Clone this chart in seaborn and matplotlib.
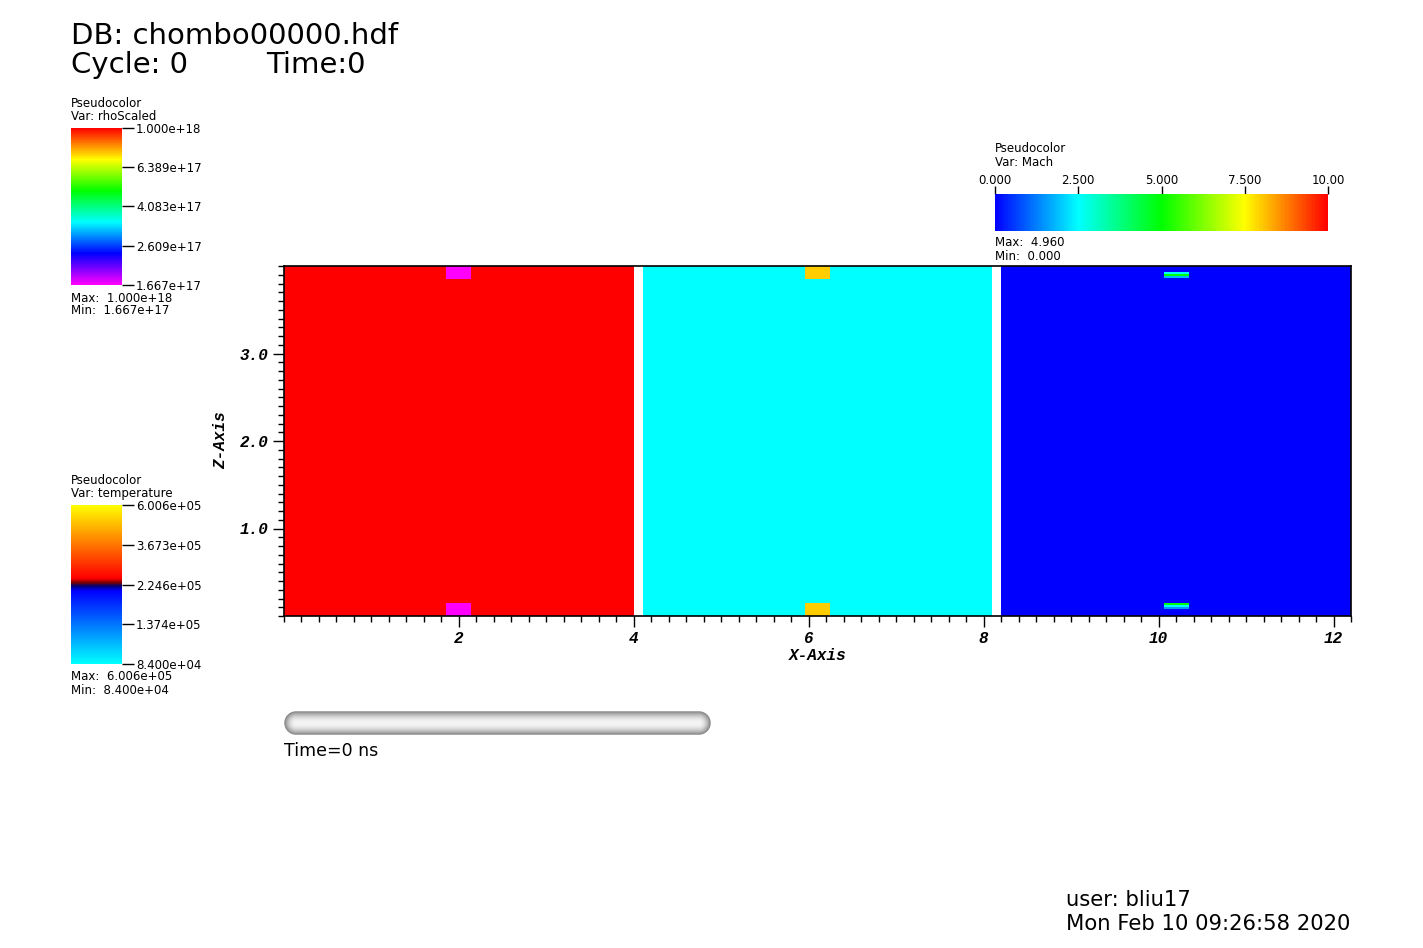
import numpy as np
import matplotlib
matplotlib.use("Agg")
import matplotlib.pyplot as plt
import seaborn as sns
from matplotlib.colors import LogNorm, Normalize, LinearSegmentedColormap
from matplotlib.cm import ScalarMappable
from matplotlib.ticker import MultipleLocator

# ---- data -------------------------------------------------------------
# the three patches sit side by side along X, each 4.0 wide
block_offsets = [0.0, 4.1, 8.2]

# rhoScaled patch (left)
rho_x = [0.0, 1.857, 2.143, 4.0]
rho_z = [0.0, 0.143, 3.857, 4.0]
rho_vals = [[1.0e18, 1.667e17, 1.0e18],
            [1.0e18, 1.0e18, 1.0e18],
            [1.0e18, 1.667e17, 1.0e18]]

# temperature patch (middle)
temp_x = [0.0, 1.857, 2.143, 4.0]
temp_z = [0.0, 0.143, 3.857, 4.0]
temp_vals = [[8.4e4, 5.0e5, 8.4e4],
             [8.4e4, 8.4e4, 8.4e4],
             [8.4e4, 5.0e5, 8.4e4]]

# Mach patch (right)
mach_x = [0.0, 1.857, 2.143, 4.0]
mach_z = [0.0, 0.080, 0.103, 0.126, 0.149, 3.863, 3.886, 3.909, 3.931, 4.0]
mach_vals = [[0.0, 0.0, 0.0],
             [0.0, 1.5, 0.0],
             [0.0, 2.6, 0.0],
             [0.0, 4.96, 0.0],
             [0.0, 0.0, 0.0],
             [0.0, 1.8, 0.0],
             [0.0, 4.96, 0.0],
             [0.0, 2.6, 0.0],
             [0.0, 0.0, 0.0]]

# legend ranges / ticks
rho_range = (1.667e17, 1.0e18)
rho_ticks = [1.667e17, 2.609e17, 4.083e17, 6.389e17, 1.0e18]
temp_range = (8.4e4, 6.006e5)
temp_ticks = [8.4e4, 1.374e5, 2.246e5, 3.673e5, 6.006e5]
mach_range = (0.0, 10.0)
mach_ticks = [0.0, 2.5, 5.0, 7.5, 10.0]
mach_ticklabels = ["0.000", "2.500", "5.000", "7.500", "10.00"]
mach_max, mach_min = 4.960, 0.000

x_ticks = [2, 4, 6, 8, 10, 12]
z_ticks = [1.0, 2.0, 3.0]

# ---- style ------------------------------------------------------------
sns.set_theme(style="white")
plt.rcParams['font.family'] = ['DejaVu Sans']
plt.rcParams['text.color'] = 'black'
plt.rcParams['axes.labelcolor'] = 'black'
plt.rcParams['xtick.color'] = 'black'
plt.rcParams['ytick.color'] = 'black'
mono = dict(family='Liberation Mono', weight='bold', style='italic', size=11.5, color='black')

rho_cmap = sns.blend_palette(['#ff00ff', '#0000ff', '#00ffff', '#00ff00', '#ffff00', '#ff0000'],
                             as_cmap=True)
mach_cmap = sns.blend_palette(['#0000ff', '#00ffff', '#00ff00', '#ffff00', '#ff0000'], as_cmap=True)
temp_cmap = LinearSegmentedColormap.from_list('hot_and_cold', [
    (0.0, (0, 1, 1)), (0.46, (0, 0, 1)), (0.49, (0, 0, 0.45)),
    (0.51, (0.45, 0, 0)), (0.54, (1, 0, 0)), (1.0, (1, 1, 0))])

rho_norm = LogNorm(*rho_range)
temp_norm = LogNorm(*temp_range)
mach_norm = Normalize(*mach_range)

W, H = 1423, 948
fig = plt.figure(figsize=(W / 100, H / 100), dpi=100)
fig.patch.set_facecolor('white')


def px_axes(x0, y0, x1, y1):
    # axes from pixel box (top-left origin)
    return fig.add_axes([x0 / W, 1 - y1 / H, (x1 - x0) / W, (y1 - y0) / H])


def px_text(x, y, s, **kw):
    fig.text(x / W, 1 - y / H, s, color='black', **kw)


# ---- main plot --------------------------------------------------------
ax = px_axes(284, 266, 1351, 616)
patches = [(rho_x, rho_z, rho_vals, rho_cmap, rho_norm),
           (temp_x, temp_z, temp_vals, temp_cmap, temp_norm),
           (mach_x, mach_z, mach_vals, mach_cmap, mach_norm)]
for off, (xe, ze, vals, cmap, norm) in zip(block_offsets, patches):
    ax.pcolormesh(np.array(xe) + off, ze, np.array(vals), cmap=cmap, norm=norm,
                  shading='flat', linewidth=0, antialiased=False)

ax.set_xlim(0, 12.2)
ax.set_ylim(0, 4.0)
ax.set_xticks(x_ticks)
ax.set_xticklabels([str(t) for t in x_ticks], fontdict=mono)
ax.set_yticks(z_ticks)
ax.set_yticklabels([f"{t:.1f}" for t in z_ticks], fontdict=mono)
ax.xaxis.set_minor_locator(MultipleLocator(0.2))
ax.yaxis.set_minor_locator(MultipleLocator(0.1))
ax.tick_params(which='major', direction='out', length=8, width=1, color='black', pad=3,
               bottom=True, left=True)
ax.tick_params(which='minor', direction='out', length=4.5, width=1, color='black',
               bottom=True, left=True)
for sp in ax.spines.values():
    sp.set_color('black')
    sp.set_linewidth(1.2)

ax.set_xlabel("X-Axis", fontdict=mono)
ax.xaxis.set_label_coords(0.5, -0.114)
ax.xaxis.label.set_va('center')
ax.set_ylabel("Z-Axis", fontdict=mono)
ax.yaxis.set_label_coords(-0.059, 0.503)
ax.yaxis.label.set_va('center')


# ---- legends ----------------------------------------------------------
def vertical_legend(y_top, y_bot, var, cmap, norm, ticks, vmax, vmin):
    cax = px_axes(71, y_top, 122, y_bot)
    cb = fig.colorbar(ScalarMappable(norm=norm, cmap=cmap), cax=cax, orientation='vertical')
    cb.set_ticks(ticks)
    cb.set_ticklabels([f"{t:.3e}" for t in ticks])
    cb.minorticks_off()
    cb.outline.set_visible(False)
    cax.tick_params(length=8.6, width=1, color='black', labelcolor='black', pad=1.5,
                    labelsize=8.5, right=True)
    px_text(71, y_top - 25, "Pseudocolor", va='center', size=8.5)
    px_text(71, y_top - 12, f"Var: {var}", va='center', size=8.5)
    px_text(71, y_bot + 13, f"Max:  {vmax:.3e}", va='center', size=8.5)
    px_text(71, y_bot + 26, f"Min:  {vmin:.3e}", va='center', size=8.5)


vertical_legend(128, 285, "rhoScaled", rho_cmap, rho_norm, rho_ticks, rho_range[1], rho_range[0])
vertical_legend(505, 664, "temperature", temp_cmap, temp_norm, temp_ticks, temp_range[1], temp_range[0])

mcax = px_axes(995, 194, 1328, 231)
mcb = fig.colorbar(ScalarMappable(norm=mach_norm, cmap=mach_cmap), cax=mcax, orientation='horizontal')
mcb.set_ticks(mach_ticks)
mcb.set_ticklabels(mach_ticklabels)
mcb.outline.set_visible(False)
mcax.xaxis.set_ticks_position('top')
mcax.tick_params(length=6, width=1, color='black', labelcolor='black', pad=-1.2,
                 labelsize=8.5, top=True, bottom=False)
px_text(995, 149, "Pseudocolor", va='center', size=8.5)
px_text(995, 162, "Var: Mach", va='center', size=8.5)
px_text(995, 243, f"Max:  {mach_max:.3f}", va='center', size=8.5)
px_text(995, 256, f"Min:  {mach_min:.3f}", va='center', size=8.5)

# ---- time slider ------------------------------------------------------
sax = px_axes(284, 711, 711, 735)
sw, sh = 427, 24
r = sh / 2 - 0.5
xx, yy = np.meshgrid(np.arange(sw) + 0.5, np.arange(sh) + 0.5)
cx = np.clip(xx, r + 0.5, sw - r - 0.5)
d = np.hypot(xx - cx, yy - sh / 2)
shade = np.clip(d / r, 0, 1)
grey = 0.96 - 0.45 * shade ** 2.0
img = np.dstack([grey, grey, grey, np.clip(r - d + 0.7, 0, 1)])
sax.imshow(img, extent=(0, sw, 0, sh), origin='lower', interpolation='bilinear')
sax.set_xlim(0, sw)
sax.set_ylim(0, sh)
sax.axis('off')
px_text(284, 751, "Time=0 ns", va='center', size=12.5)

# ---- annotations ------------------------------------------------------
px_text(71, 44, "DB: chombo00000.hdf", va='baseline', size=21)
px_text(71, 73, "Cycle: 0", va='baseline', size=21)
px_text(266, 73, "Time:0", va='baseline', size=21)
px_text(1066, 906, "user: bliu17", va='baseline', size=15.2)
px_text(1350, 930, "Mon Feb 10 09:26:58 2020", va='baseline', ha='right', size=15.2)

fig.savefig("out.png", dpi=100)
